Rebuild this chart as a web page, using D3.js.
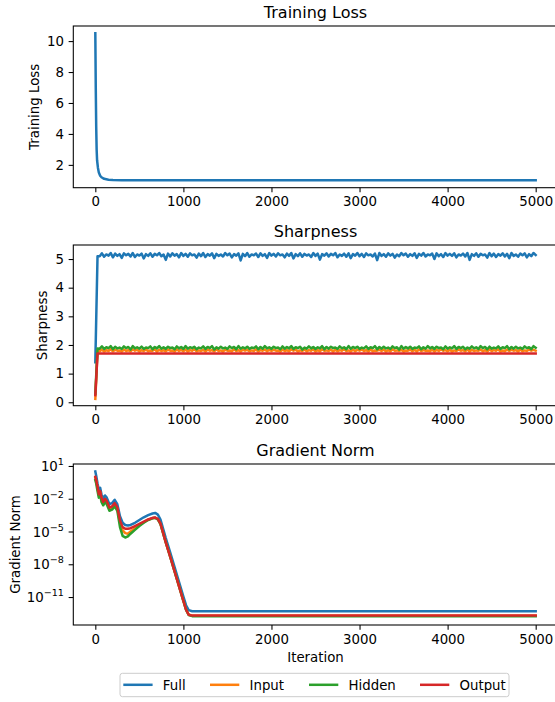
<!DOCTYPE html>
<html><head><meta charset="utf-8">
<script src="https://cdn.jsdelivr.net/npm/d3@7"></script>
<style>
html,body{margin:0;padding:0;background:#fff;}
text{font-family:"DejaVu Sans",sans-serif;fill:#000;}
</style></head>
<body><svg id="c" width="555" height="702"></svg>
<script>
// ---------------- DATA ----------------
const seriesNames = ["Full","Input","Hidden","Output"];
const seriesColors = ["#1f77b4","#ff7f0e","#2ca02c","#d62728"];

const xTicks = [0,1000,2000,3000,4000,5000];

// Training loss
const lossIter = [0,5,10,15,20,30,40,55,70,100,150,200,300,500,1000,2000,3000,4000,5000];
const lossVals = [10.5,7.0,4.5,3.0,2.3,1.8,1.5,1.3,1.2,1.1,1.04,1.02,1.01,1.0,1.0,1.0,1.0,1.0,1.0];
const lossTicks = [2,4,6,8,10];

// Sharpness
const sIter = [0,
 25,50,75,100,125,150,175,200,225,250,275,300,325,350,375,400,425,450,475,500,
 525,550,575,600,625,650,675,700,725,750,775,800,825,850,875,900,925,950,975,1000,
 1025,1050,1075,1100,1125,1150,1175,1200,1225,1250,1275,1300,1325,1350,1375,1400,1425,1450,1475,1500,
 1525,1550,1575,1600,1625,1650,1675,1700,1725,1750,1775,1800,1825,1850,1875,1900,1925,1950,1975,2000,
 2025,2050,2075,2100,2125,2150,2175,2200,2225,2250,2275,2300,2325,2350,2375,2400,2425,2450,2475,2500,
 2525,2550,2575,2600,2625,2650,2675,2700,2725,2750,2775,2800,2825,2850,2875,2900,2925,2950,2975,3000,
 3025,3050,3075,3100,3125,3150,3175,3200,3225,3250,3275,3300,3325,3350,3375,3400,3425,3450,3475,3500,
 3525,3550,3575,3600,3625,3650,3675,3700,3725,3750,3775,3800,3825,3850,3875,3900,3925,3950,3975,4000,
 4025,4050,4075,4100,4125,4150,4175,4200,4225,4250,4275,4300,4325,4350,4375,4400,4425,4450,4475,4500,
 4525,4550,4575,4600,4625,4650,4675,4700,4725,4750,4775,4800,4825,4850,4875,4900,4925,4950,4975,5000];
const sharpFull = [1.4,
 5.10,5.10,5.20,5.08,5.16,5.12,5.21,5.06,5.19,5.11,5.17,5.04,5.20,5.13,5.18,5.09,5.21,5.07,5.16,5.12,
 5.19,5.02,5.17,5.11,5.20,5.08,5.18,5.13,5.21,5.10,5.16,4.97,5.19,5.09,5.20,5.12,5.17,5.06,5.21,5.11,
 5.18,5.08,5.20,5.13,5.16,5.05,5.19,5.10,5.21,5.07,5.17,5.12,5.20,5.03,5.18,5.11,5.16,5.09,5.21,5.13,
 5.19,5.06,5.17,5.12,5.20,4.95,5.18,5.10,5.21,5.08,5.16,5.13,5.19,5.07,5.20,5.11,5.17,5.04,5.21,5.12,
 5.18,5.09,5.20,5.13,5.16,5.06,5.19,5.11,5.21,5.02,5.17,5.10,5.20,5.08,5.18,5.12,5.16,5.07,5.21,5.11,
 5.19,4.98,5.17,5.12,5.20,5.09,5.18,5.13,5.21,5.06,5.16,5.11,5.19,5.08,5.20,5.03,5.17,5.12,5.21,5.10,
 5.18,5.07,5.20,5.13,5.16,5.09,5.19,4.96,5.21,5.11,5.17,5.08,5.20,5.12,5.18,5.05,5.16,5.10,5.21,5.13,
 5.19,5.08,5.17,5.11,5.20,5.04,5.18,5.12,5.21,5.09,5.16,5.13,5.19,5.00,5.20,5.10,5.17,5.07,5.21,5.12,
 5.18,5.11,5.20,5.06,5.16,5.12,5.19,5.09,5.21,4.97,5.17,5.11,5.20,5.08,5.18,5.13,5.16,5.05,5.21,5.10,
 5.19,5.07,5.17,5.12,5.20,5.09,5.18,5.03,5.21,5.11,5.16,5.08,5.19,5.13,5.20,5.06,5.17,5.10,5.21,5.14];
const sharpInput = [0.12,
 1.80,1.78,1.84,1.77,1.82,1.79,1.85,1.78,1.83,1.80,1.81,1.77,1.84,1.79,1.82,1.78,1.85,1.80,1.83,1.77,
 1.82,1.79,1.84,1.78,1.81,1.80,1.85,1.77,1.83,1.79,1.82,1.78,1.84,1.80,1.81,1.77,1.85,1.79,1.83,1.78,
 1.84,1.77,1.82,1.80,1.85,1.78,1.81,1.79,1.83,1.77,1.84,1.80,1.82,1.78,1.85,1.79,1.81,1.77,1.83,1.80,
 1.81,1.78,1.85,1.79,1.82,1.77,1.84,1.80,1.83,1.78,1.81,1.79,1.85,1.77,1.82,1.80,1.84,1.78,1.83,1.79,
 1.83,1.80,1.81,1.77,1.84,1.79,1.82,1.78,1.85,1.80,1.83,1.77,1.81,1.79,1.84,1.78,1.82,1.80,1.85,1.77,
 1.82,1.78,1.85,1.80,1.81,1.79,1.84,1.77,1.83,1.78,1.82,1.80,1.85,1.79,1.81,1.77,1.84,1.78,1.83,1.80,
 1.84,1.79,1.82,1.77,1.85,1.78,1.81,1.80,1.83,1.79,1.84,1.77,1.82,1.78,1.85,1.80,1.81,1.79,1.83,1.77,
 1.81,1.80,1.84,1.78,1.83,1.77,1.85,1.79,1.82,1.80,1.81,1.78,1.84,1.77,1.83,1.79,1.85,1.80,1.82,1.78,
 1.83,1.77,1.81,1.79,1.84,1.80,1.82,1.78,1.85,1.77,1.83,1.79,1.81,1.80,1.84,1.78,1.82,1.77,1.85,1.79,
 1.82,1.80,1.85,1.77,1.81,1.78,1.84,1.79,1.83,1.80,1.82,1.77,1.85,1.78,1.81,1.79,1.84,1.80,1.83,1.80];
const sharpHidden = [0.30,
 1.88,1.87,1.95,1.86,1.92,1.89,1.96,1.85,1.94,1.88,1.91,1.86,1.95,1.89,1.93,1.84,1.96,1.88,1.92,1.87,
 1.94,1.86,1.91,1.89,1.95,1.85,1.93,1.88,1.96,1.87,1.92,1.86,1.94,1.89,1.91,1.85,1.95,1.88,1.93,1.86,
 1.96,1.87,1.92,1.89,1.94,1.85,1.91,1.88,1.95,1.86,1.93,1.89,1.96,1.84,1.92,1.87,1.94,1.88,1.91,1.86,
 1.95,1.89,1.93,1.85,1.96,1.87,1.92,1.88,1.94,1.86,1.91,1.89,1.95,1.85,1.93,1.87,1.96,1.88,1.92,1.86,
 1.94,1.89,1.91,1.85,1.95,1.87,1.93,1.88,1.96,1.86,1.92,1.89,1.94,1.84,1.91,1.87,1.95,1.88,1.93,1.86,
 1.92,1.88,1.96,1.85,1.93,1.87,1.94,1.89,1.91,1.86,1.95,1.88,1.92,1.85,1.96,1.87,1.93,1.89,1.94,1.86,
 1.91,1.88,1.95,1.86,1.92,1.89,1.96,1.85,1.93,1.87,1.94,1.88,1.91,1.86,1.95,1.89,1.92,1.84,1.96,1.87,
 1.93,1.88,1.94,1.86,1.91,1.89,1.95,1.85,1.92,1.87,1.96,1.88,1.93,1.86,1.94,1.89,1.91,1.85,1.95,1.87,
 1.92,1.88,1.96,1.86,1.93,1.89,1.94,1.85,1.91,1.87,1.95,1.88,1.92,1.86,1.96,1.89,1.93,1.85,1.94,1.87,
 1.91,1.88,1.95,1.86,1.92,1.89,1.96,1.85,1.93,1.87,1.94,1.88,1.91,1.86,1.95,1.89,1.92,1.85,1.96,1.90];
const outIter = [0,25,1000,2000,3000,4000,5000];
const sharpOutput = [0.25,1.70,1.70,1.70,1.70,1.70,1.70];
const sharpTicks = [0,1,2,3,4,5];

// Gradient norm (log10 of the value)
const gnIter = [0,10,25,40,55,70,90,110,130,160,190,220,250,280,310,340,370,400,450,500,550,600,650,680,710,740,800,850,900,950,1000,1030,1060,1100,1200,5000];
const gnFullLog   = [0.5,0.1,-0.6,-1.2,-1.0,-1.6,-2.0,-1.7,-1.9,-2.5,-2.4,-2.1,-2.5,-3.6,-4.2,-4.4,-4.45,-4.4,-4.2,-3.95,-3.7,-3.5,-3.35,-3.3,-3.45,-3.9,-5.6,-6.9,-8.25,-9.6,-10.95,-11.75,-12.2,-12.3,-12.3,-12.3];
const gnInputLog  = [-0.1,-0.4,-1.0,-1.7,-1.4,-2.0,-2.4,-2.1,-2.3,-2.9,-2.8,-2.5,-2.9,-4.2,-4.9,-5.15,-5.2,-5.0,-4.7,-4.4,-4.15,-3.92,-3.78,-3.74,-3.88,-4.3,-6.0,-7.3,-8.65,-10.0,-11.35,-12.15,-12.6,-12.72,-12.72,-12.72];
const gnHiddenLog = [-0.3,-0.6,-1.3,-1.9,-1.6,-2.3,-2.6,-2.3,-2.5,-3.1,-3.0,-2.7,-3.1,-4.6,-5.4,-5.55,-5.45,-5.2,-4.85,-4.5,-4.2,-3.95,-3.8,-3.75,-3.9,-4.32,-6.0,-7.3,-8.65,-10.0,-11.35,-12.15,-12.65,-12.75,-12.75,-12.75];
const gnOutputLog = [0.0,-0.3,-0.9,-1.6,-1.3,-1.9,-2.3,-2.0,-2.2,-2.8,-2.7,-2.4,-2.8,-4.0,-4.6,-4.75,-4.75,-4.7,-4.5,-4.3,-4.1,-3.9,-3.75,-3.72,-3.85,-4.28,-6.0,-7.3,-8.65,-10.0,-11.35,-12.15,-12.62,-12.7,-12.7,-12.7];
const gnTickExps = [1,-2,-5,-8,-11];

// ---------------- CHART ----------------
const svg = d3.select("#c");
const FS = 13.33, TFS = 16, LW = 2.5;
const left = 73.3, right = 557.7;
const x = d3.scaleLinear().domain([-250,5250]).range([left,right]);

function frame(top,bottom){
  const g = svg.append("g");
  g.append("rect").attr("x",left).attr("y",top).attr("width",right-left).attr("height",bottom-top)
    .attr("fill","none").attr("stroke","#000").attr("stroke-width",1.07);
  const ax = g.append("g").attr("transform",`translate(0,${bottom})`)
    .call(d3.axisBottom(x).tickValues(xTicks).tickFormat(d3.format("d")).tickSize(4.67).tickPadding(4.67));
  styleAxis(ax);
  return g;
}
function styleAxis(ax){
  ax.select(".domain").remove();
  ax.selectAll(".tick line").attr("stroke","#000").attr("stroke-width",1.07);
  ax.selectAll(".tick text").attr("font-size",FS).attr("font-family","DejaVu Sans").attr("fill","#000");
}
function title(txt,top){
  svg.append("text").attr("x",(left+right)/2).attr("y",top-8).attr("text-anchor","middle")
    .attr("font-size",TFS).text(txt);
}
function ylabel(txt,xpos,top,bottom){
  svg.append("text").attr("transform",`translate(${xpos},${(top+bottom)/2}) rotate(-90)`)
    .attr("text-anchor","middle").attr("font-size",FS).text(txt);
}
function drawLine(xs,ys,yScale,color){
  const pts = xs.map((d,i)=>[d,ys[i]]);
  svg.append("path").datum(pts)
    .attr("d",d3.line().x(d=>x(d[0])).y(d=>yScale(d[1])))
    .attr("fill","none").attr("stroke",color).attr("stroke-width",LW)
    .attr("stroke-linejoin","round").attr("stroke-linecap","square");
}

// Panel 1: Training Loss
{
  const top=26, bottom=187.7;
  const y = d3.scaleLinear().domain([0.525,10.975]).range([bottom,top]);
  frame(top,bottom);
  const ay = svg.append("g").attr("transform",`translate(${left},0)`)
    .call(d3.axisLeft(y).tickValues(lossTicks).tickFormat(d3.format("d")).tickSize(4.67).tickPadding(4.67));
  styleAxis(ay);
  drawLine(lossIter,lossVals,y,seriesColors[0]);
  title("Training Loss",top);
  ylabel("Training Loss",39,top,bottom);
}
// Panel 2: Sharpness
{
  const top=245, bottom=405.7;
  const y = d3.scaleLinear().domain([-0.12,5.49]).range([bottom,top]);
  frame(top,bottom);
  const ay = svg.append("g").attr("transform",`translate(${left},0)`)
    .call(d3.axisLeft(y).tickValues(sharpTicks).tickFormat(d3.format("d")).tickSize(4.67).tickPadding(4.67));
  styleAxis(ay);
  drawLine(sIter,sharpFull,y,seriesColors[0]);
  drawLine(sIter,sharpInput,y,seriesColors[1]);
  drawLine(sIter,sharpHidden,y,seriesColors[2]);
  drawLine(outIter,sharpOutput,y,seriesColors[3]);
  title("Sharpness",top);
  ylabel("Sharpness",47,top,bottom);
}
// Panel 3: Gradient Norm
{
  const top=464, bottom=625;
  const y = d3.scaleLog().domain([Math.pow(10,-13.56),Math.pow(10,1.18)]).range([bottom,top]);
  frame(top,bottom);
  const ay = svg.append("g").attr("transform",`translate(${left},0)`)
    .call(d3.axisLeft(y).tickValues(gnTickExps.map(e=>Math.pow(10,e))).tickFormat("").tickSize(4.67).tickPadding(4.67));
  styleAxis(ay);
  gnTickExps.forEach(e=>{
    const t = svg.append("text").attr("x",left-4.67-4.67).attr("y",y(Math.pow(10,e))+5)
      .attr("text-anchor","end").attr("font-size",FS);
    t.append("tspan").text("10");
    t.append("tspan").attr("dy",-6).attr("font-size",FS*0.72).text(String(e).replace("-","\u2212"));
  });
  const sets=[gnFullLog,gnInputLog,gnHiddenLog,gnOutputLog];
  sets.forEach((s,i)=>drawLine(gnIter,s.map(v=>Math.pow(10,v)),y,seriesColors[i]));
  title("Gradient Norm",top);
  ylabel("Gradient Norm",20,top,bottom);
  svg.append("text").attr("x",(left+right)/2).attr("y",662).attr("text-anchor","middle")
    .attr("font-size",FS).text("Iteration");
}
// Legend
{
  const lx=120, ly=673.3, lw=389, lh=23.4;
  svg.append("rect").attr("x",lx).attr("y",ly).attr("width",lw).attr("height",lh).attr("rx",2.5)
    .attr("fill","#fff").attr("fill-opacity",0.8).attr("stroke","#cccccc").attr("stroke-width",1);
  const lineX=[123.3,210,309,420];
  seriesNames.forEach((n,i)=>{
    svg.append("line").attr("x1",lineX[i]).attr("x2",lineX[i]+29.3).attr("y1",684.8).attr("y2",684.8)
      .attr("stroke",seriesColors[i]).attr("stroke-width",LW);
    svg.append("text").attr("x",lineX[i]+39.5).attr("y",689.5).attr("font-size",FS).text(n);
  });
}
</script></body></html>
